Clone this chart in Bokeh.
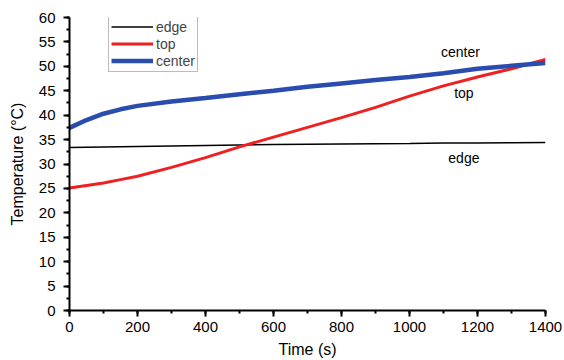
from bokeh.plotting import figure
from bokeh.embed import file_html
from bokeh.resources import INLINE
from bokeh.models import Range1d, FixedTicker, Legend, LegendItem, Label

time_s = [0, 50, 100, 150, 200, 300, 400, 500, 600, 700, 800, 900, 1000, 1100, 1200, 1300, 1400]
center = [37.4, 39.0, 40.3, 41.2, 41.9, 42.8, 43.5, 44.3, 45.0, 45.8, 46.5, 47.2, 47.8, 48.6, 49.5, 50.1, 50.7]
top = [25.1, 25.6, 26.1, 26.8, 27.5, 29.3, 31.3, 33.5, 35.5, 37.5, 39.5, 41.6, 43.9, 46.0, 47.8, 49.5, 51.4]
edge = [33.4, 33.45, 33.5, 33.55, 33.6, 33.7, 33.8, 33.9, 34.0, 34.05, 34.1, 34.15, 34.2, 34.3, 34.3, 34.35, 34.4]

x_ticks = [0, 200, 400, 600, 800, 1000, 1200, 1400]
y_ticks = [0, 5, 10, 15, 20, 25, 30, 35, 40, 45, 50, 55, 60]

FONT = "Liberation Sans"

p = figure(width=564, height=360, output_backend="svg", toolbar_location=None,
           x_range=Range1d(0, 1400), y_range=Range1d(0, 60),
           min_border_left=69, min_border_right=19, min_border_top=17, min_border_bottom=50)
p.outline_line_color = None
p.grid.visible = False
p.background_fill_color = "white"

r_edge = p.line(time_s, edge, line_color="black", line_width=1.5)
r_top = p.line(time_s, top, line_color="#f02020", line_width=3)
r_center = p.line(time_s, center, line_color="#2a4cae", line_width=4.5)

for ax in (p.xaxis[0], p.yaxis[0]):
    ax.axis_line_width = 2
    ax.axis_line_color = "black"
    ax.major_tick_line_width = 2
    ax.minor_tick_line_width = 2
    ax.major_tick_out = 6
    ax.major_tick_in = 0
    ax.minor_tick_out = 3
    ax.minor_tick_in = 0
    ax.major_label_text_font = FONT
    ax.major_label_text_font_size = "15px"
    ax.major_label_text_color = "black"
    ax.axis_label_text_font = FONT
    ax.axis_label_text_font_size = "16px"
    ax.axis_label_text_font_style = "normal"
    ax.axis_label_text_color = "black"

p.xaxis.ticker = FixedTicker(ticks=x_ticks, minor_ticks=list(range(0, 1401, 100)))
p.yaxis.ticker = FixedTicker(ticks=y_ticks, minor_ticks=[i * 2.5 for i in range(25)])
p.xaxis.axis_label = "Time (s)"
p.yaxis.axis_label = "Temperature (°C)"
p.xaxis.major_label_standoff = 5
p.yaxis.major_label_standoff = 8
p.xaxis.axis_label_standoff = 6
p.yaxis.axis_label_standoff = 10

legend = Legend(items=[LegendItem(label="edge", renderers=[r_edge]),
                       LegendItem(label="top", renderers=[r_top]),
                       LegendItem(label="center", renderers=[r_center])],
                location=(39, 238))
legend.border_line_color = "#777777"
legend.border_line_width = 1
legend.glyph_width = 42
legend.glyph_height = 17
legend.label_height = 17
legend.spacing = 0
legend.padding = 2
legend.margin = 0
legend.label_standoff = 3
legend.label_text_font = FONT
legend.label_text_font_size = "14px"
legend.background_fill_alpha = 1
p.add_layout(legend, "center")

for txt, x, y in [("center", 1150, 53.0), ("top", 1160, 44.6), ("edge", 1160, 31.2)]:
    p.add_layout(Label(x=x, y=y, text=txt, text_font=FONT, text_font_size="14px",
                       text_align="center", text_baseline="middle", text_color="black"))

open("out.html", "w").write(file_html(p, INLINE))
